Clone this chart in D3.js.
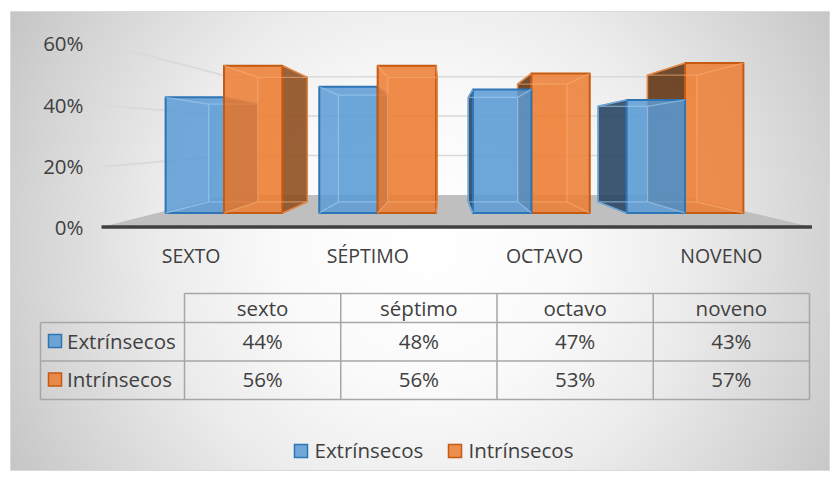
<!DOCTYPE html>
<html><head><meta charset="utf-8">
<script src="https://cdn.jsdelivr.net/npm/d3@7"></script>
<style>html,body{margin:0;padding:0;background:#fff;} svg{display:block;font-family:"Open Sans",sans-serif;}</style>
</head><body><svg id="c" width="840" height="485"></svg>
<script>
// ---- data ----
const categories = ["SEXTO", "SÉPTIMO", "OCTAVO", "NOVENO"];
const tableCategories = ["sexto", "séptimo", "octavo", "noveno"];
const seriesNames = ["Extrínsecos", "Intrínsecos"];
const extrinsecos = [44, 48, 47, 43];
const intrinsecos = [56, 56, 53, 57];
const yTicks = [0, 20, 40, 60];

// ---- styles ----
const colors = {
  "Extrínsecos": {fill:"#5b9bd5", stroke:"#2e75b6", sideR:"#2f5f8f", sideL:"#243f5e", inner:"#a4cdf2"},
  "Intrínsecos": {fill:"#ed7d31", stroke:"#c55a11", sideR:"#8a4a1c", sideL:"#5a3010", inner:"#f7ad74"}
};
const textColor = "#404040";
const FS = 20.5, FS_CAT = 19.5;

const svg = d3.select("#c");
const defs = svg.append("defs");
const rg = defs.append("radialGradient").attr("id","bg").attr("gradientUnits","userSpaceOnUse")
  .attr("cx",425).attr("cy",245).attr("r",480);
[[0,"#ffffff"],[0.3,"#fafafa"],[0.55,"#ececec"],[0.85,"#d2d2d2"],[1,"#c4c4c4"]]
  .forEach(([o,c])=>rg.append("stop").attr("offset",o).attr("stop-color",c));
svg.append("rect").attr("x",10.5).attr("y",11.5).attr("width",819).attr("height",459)
  .attr("fill","url(#bg)").attr("stroke","#d9d9d9");

// ---- perspective ----
const VP = [443, 141];
const DEPTH = {floorFront:1.194, label:1.15, barFront:1, barBack:0.845, wall:0.75};
const P = (qx, qy, r) => [VP[0] + (qx - VP[0]) * r, VP[1] + (qy - VP[1]) * r];
const poly = pts => "M" + pts.map(p => p.join(",")).join("L") + "Z";

const x = d3.scaleBand().domain(categories).range([157, 752]).paddingInner(0.24).paddingOuter(0.056);
const sub = d3.scaleBand().domain(seriesNames).range([0, x.bandwidth()]);
const y = d3.scaleLinear().domain([0, 60]).range([213, 213 - 2.63 * 60]);
// value axis as drawn on the front edge of the left wall
const yAxis = d3.scaleLinear().domain([0, 60]).range([228, 44]);
const [fx0, fx1] = x.range();
const y0 = y(0);
const wallFrontX = P(fx0, y0, DEPTH.floorFront)[0];

// gridlines (left wall + back wall)
const grid = svg.append("g");
yTicks.filter(v => v > 0).forEach(v => {
  const a = [wallFrontX + 2, yAxis(v)], b = P(fx0, y(v), DEPTH.wall), c = P(fx1, y(v), DEPTH.wall);
  grid.append("path").attr("d", "M"+a.join(",")+"L"+b.join(",")).attr("stroke","#dadada").attr("stroke-width",2).attr("fill","none");
  grid.append("path").attr("d", "M"+b.join(",")+"L"+c.join(",")).attr("stroke","#d9d9d9").attr("stroke-width",1.5).attr("fill","none");
});

// floor
svg.append("path").attr("d", poly([P(fx0,y0,DEPTH.floorFront), P(fx1,y0,DEPTH.floorFront), P(fx1,y0,DEPTH.wall), P(fx0,y0,DEPTH.wall)]))
  .attr("fill","#bfbfbf");
{
  const a = P(fx0,y0,DEPTH.floorFront), b = P(fx1,y0,DEPTH.floorFront);
  svg.append("path").attr("d","M"+a.join(",")+"L"+b.join(",")).attr("stroke","#404040").attr("stroke-width",3.5);
}

// y labels
const fmt = d3.format(".0%");
svg.append("g").selectAll("text").data(yTicks).join("text")
  .attr("x", wallFrontX - 18)
  .attr("y", d => yAxis(d))
  .attr("dy","0.36em").attr("text-anchor","end").attr("font-size",FS).attr("fill",textColor)
  .text(d => fmt(d/100));

// category labels
svg.append("g").selectAll("text").data(categories).join("text")
  .attr("x", d => P(x(d) + x.bandwidth()/2, y0, DEPTH.label)[0])
  .attr("y", 263).attr("text-anchor","middle").attr("font-size",FS_CAT).attr("fill",textColor)
  .text(d => d);

// bars
const seriesValues = {"Extrínsecos": extrinsecos, "Intrínsecos": intrinsecos};
function drawBar(g, b){
  const {x0, x1, top, bot, st} = b;
  const f = DEPTH.barFront, k = DEPTH.barBack;
  const F = [P(x0,top,f), P(x1,top,f), P(x1,bot,f), P(x0,bot,f)];
  const B = [P(x0,top,k), P(x1,top,k), P(x1,bot,k), P(x0,bot,k)];
  g.append("path").attr("d", poly(B)).attr("fill", st.fill).attr("fill-opacity",0.25);
  let side = null, sideCol = null;
  if (x1 <= VP[0]) { side = [F[1],B[1],B[2],F[2]]; sideCol = st.sideR; }
  else if (x0 >= VP[0]) { side = [F[0],B[0],B[3],F[3]]; sideCol = st.sideL; }
  if (side) g.append("path").attr("d", poly(side)).attr("fill", sideCol).attr("fill-opacity",0.85)
    .attr("stroke", st.stroke).attr("stroke-width",1.5).attr("stroke-linejoin","round");
  g.append("path").attr("d", poly(F)).attr("fill", st.fill).attr("fill-opacity",0.85)
    .attr("stroke", st.stroke).attr("stroke-width",2).attr("stroke-linejoin","round");
  const inner = poly(B) + [0,1,2,3].map(i => "M"+F[i].join(",")+"L"+B[i].join(",")).join("");
  g.append("path").attr("d", inner).attr("fill","none").attr("stroke", st.inner)
    .attr("stroke-opacity",0.6).attr("stroke-width",1.3);
}
const barsG = svg.append("g");
categories.forEach((c, i) => {
  const bars = seriesNames.map(s => {
    const x0 = x(c) + sub(s), x1 = x0 + sub.bandwidth();
    return {x0, x1, top: y(seriesValues[s][i]), bot: y0, st: colors[s], cx: (x0+x1)/2};
  });
  bars.sort((a,b) => Math.abs(b.cx - VP[0]) - Math.abs(a.cx - VP[0]));
  bars.forEach(b => drawBar(barsG, b));
});

// data table
const tx = d3.scaleBand().domain(tableCategories).range([184.5, 809.5]);
const rowTop = 293.5, rowLines = [322.5, 361, 399.5], leftX = 40.5;
const tg = svg.append("g");
const tl = (x1,y1,x2,y2) => tg.append("line").attr("x1",x1).attr("y1",y1).attr("x2",x2).attr("y2",y2)
  .attr("stroke","#a6a6a6").attr("stroke-width",1.5);
tl(tx.range()[0], rowTop, tx.range()[1], rowTop);
rowLines.forEach(r => tl(leftX, r, tx.range()[1], r));
tl(leftX, rowLines[0], leftX, rowLines[2]);
tableCategories.forEach(c => tl(tx(c), rowTop, tx(c), rowLines[2]));
tl(tx.range()[1], rowTop, tx.range()[1], rowLines[2]);
tg.selectAll("text.h").data(tableCategories).join("text").attr("class","h")
  .attr("x", d => tx(d) + tx.bandwidth()/2).attr("y", 315.5).attr("text-anchor","middle")
  .attr("font-size",FS).attr("fill",textColor).text(d => d);
const rowBase = [348.5, 387];
seriesNames.forEach((s, j) => {
  const st = colors[s];
  tg.append("rect").attr("x",48.5).attr("y",rowBase[j]-14).attr("width",13).attr("height",13)
    .attr("fill", st.fill).attr("fill-opacity",0.85).attr("stroke", st.stroke).attr("stroke-width",1.5);
  tg.append("text").attr("x",67).attr("y",rowBase[j]).attr("font-size",FS).attr("fill",textColor).text(s);
  tg.selectAll("text.v"+j).data(seriesValues[s]).join("text").attr("class","v"+j)
    .attr("x",(d,i) => tx(tableCategories[i]) + tx.bandwidth()/2).attr("y",rowBase[j])
    .attr("text-anchor","middle").attr("font-size",FS).attr("fill",textColor).text(d => d + "%");
});

// legend
const lg = svg.append("g");
const legX = [294.5, 448.5];
seriesNames.forEach((s, j) => {
  const st = colors[s];
  lg.append("rect").attr("x",legX[j]).attr("y",444.5).attr("width",13).attr("height",13)
    .attr("fill", st.fill).attr("fill-opacity",0.85).attr("stroke", st.stroke).attr("stroke-width",1.5);
  lg.append("text").attr("x",legX[j]+20).attr("y",457.5).attr("font-size",FS).attr("fill",textColor).text(s);
});
</script></body></html>
